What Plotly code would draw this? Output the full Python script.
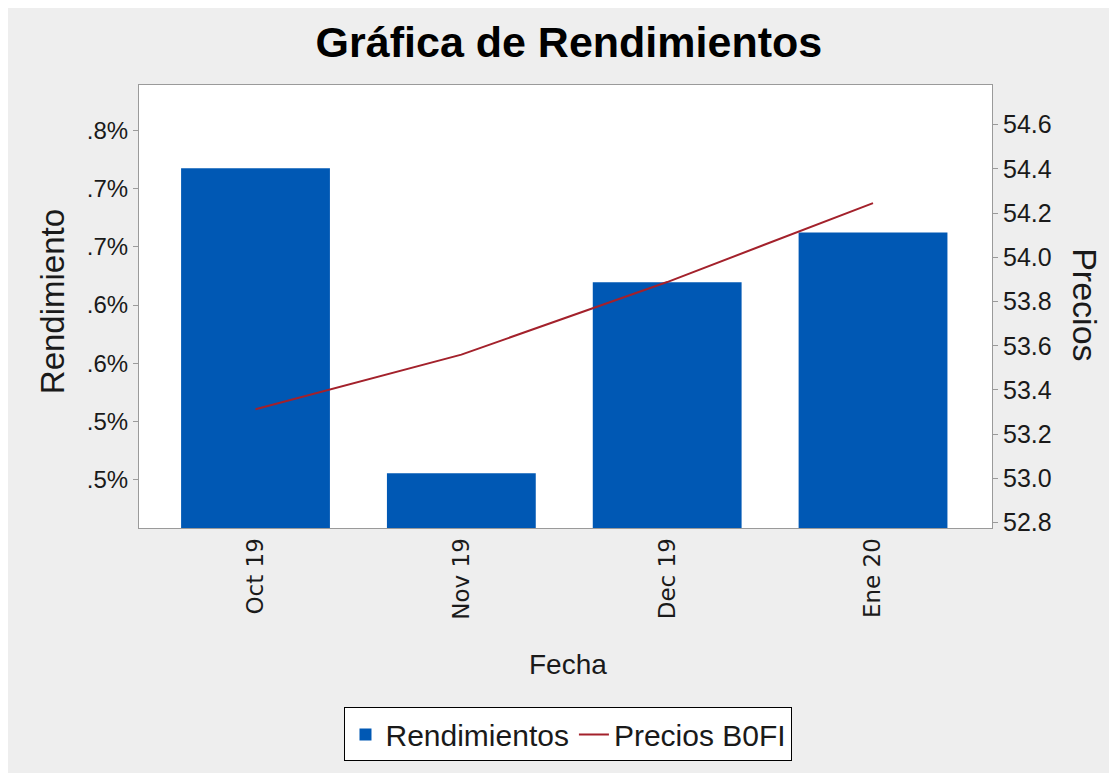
import plotly.graph_objects as go

categories = ["Oct 19", "Nov 19", "Dec 19", "Ene 20"]
rendimientos = [0.007174, 0.004556, 0.006196, 0.006622]
precios = [53.313, 53.560, 53.888, 54.245]

left_tickvals = [0.0045, 0.0050, 0.0055, 0.0060, 0.0065, 0.0070, 0.0075]
left_ticktext = [".5%", ".5%", ".6%", ".6%", ".7%", ".7%", ".8%"]
right_tickvals = [52.8, 53.0, 53.2, 53.4, 53.6, 53.8, 54.0, 54.2, 54.4, 54.6]
right_ticktext = ["52.8", "53.0", "53.2", "53.4", "53.6", "53.8", "54.0", "54.2", "54.4", "54.6"]

FONT = "Liberation Sans, Arial, sans-serif"
BG = "#eeeeee"
W, H = 1109, 765

fig = go.Figure()
fig.add_trace(go.Bar(
    x=categories, y=rendimientos, name="Rendimientos",
    marker=dict(color="#0058b4", line=dict(width=0)),
))
fig.add_trace(go.Scatter(
    x=categories, y=precios, name="Precios B0FI", yaxis="y2",
    mode="lines", line=dict(color="#a3212b", width=2),
))

fig.update_layout(
    width=W, height=H,
    margin=dict(l=131, r=125, t=77, b=241),
    paper_bgcolor=BG, plot_bgcolor="white",
    font=dict(family=FONT, color="#222222"),
    bargap=0.277,
    showlegend=True,
    title=dict(text="<b>Gráfica de Rendimientos</b>", x=0.504, xref="paper",
               y=1 - 34 / H, yref="container", xanchor="center", yanchor="middle",
               font=dict(family=FONT, size=43, color="black")),
    xaxis=dict(
        type="category", range=[-0.566, 3.578], tickangle=-90,
        tickfont=dict(family="DejaVu Sans, sans-serif", size=23, color="#1a1a1a"),
        showline=True, linecolor="#9a9a9a", linewidth=1, mirror=True,
        ticks="", showgrid=False,
    ),
    yaxis=dict(
        range=[0.004086, 0.007889], tickvals=left_tickvals, ticktext=left_ticktext,
        tickfont=dict(family=FONT, size=24, color="#1a1a1a"),
        ticks="outside", ticklen=5, tickcolor="#9a9a9a",
        showline=True, linecolor="#9a9a9a", linewidth=1, mirror=True,
        showgrid=False, zeroline=False,
    ),
    yaxis2=dict(
        overlaying="y", side="right",
        range=[52.776, 54.779], tickvals=right_tickvals, ticktext=right_ticktext,
        tickfont=dict(family=FONT, size=25, color="#1a1a1a"),
        ticks="outside", ticklen=5, tickcolor="#9a9a9a",
        showline=True, linecolor="#9a9a9a", linewidth=1,
        showgrid=False, zeroline=False,
    ),
    legend=dict(
        orientation="h", x=0.5035, xanchor="center", y=-0.405, yanchor="top",
        bgcolor="white", bordercolor="black", borderwidth=1,
        font=dict(family=FONT, size=30, color="#1a1a1a"),
    ),
    annotations=[
        dict(text="Rendimiento", xref="paper", yref="paper", x=-0.102, y=0.512,
             textangle=-90, showarrow=False, xanchor="center", yanchor="middle",
             font=dict(family=FONT, size=33, color="#1a1a1a")),
        dict(text="Precios", xref="paper", yref="paper", x=1.109, y=0.503,
             textangle=90, showarrow=False, xanchor="center", yanchor="middle",
             font=dict(family=FONT, size=34, color="#1a1a1a")),
        dict(text="Fecha", xref="paper", yref="paper", x=0.5035, y=-0.309,
             showarrow=False, xanchor="center", yanchor="middle",
             font=dict(family=FONT, size=28, color="#1a1a1a")),
    ],
)

fig.write_html("out.html")
